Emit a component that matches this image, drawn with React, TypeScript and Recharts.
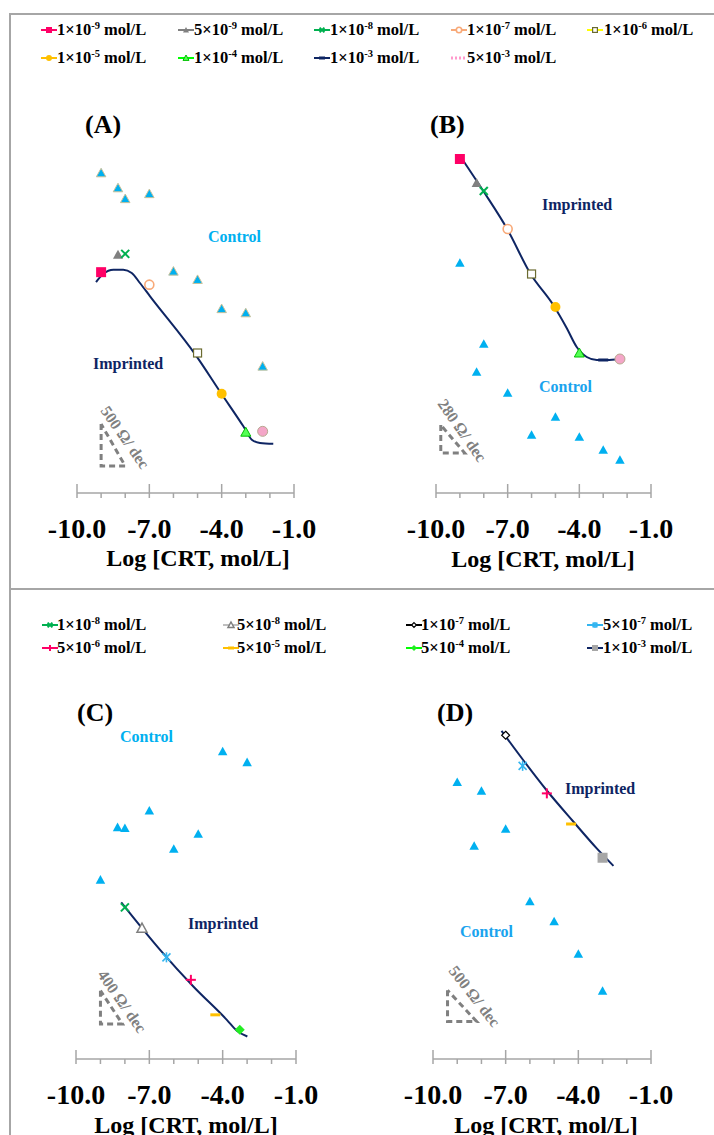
import { ComposedChart, Scatter, Line, XAxis, YAxis } from 'recharts';

const SERIF = "'Liberation Serif', 'Times New Roman', serif";
const AXIS_GREY = '#A6A6A6';
const NAVY = '#0E2563';
const CONTROL_BLUE = '#00B0F0';

// x axis (log concentration)
const X_TICKS = [-10, -9, -8, -7, -6, -5, -4, -3, -2, -1];
const X_MAJOR = [-10, -7, -4, -1];

// legends
const TOP_KEYS = ['1e-9', '5e-9', '1e-8', '1e-7', '1e-6', '1e-5', '1e-4', '1e-3', '5e-3'];
const TOP_MANT = ['1', '5', '1', '1', '1', '1', '1', '1', '5'];
const TOP_EXP = ['-9', '-9', '-8', '-7', '-6', '-5', '-4', '-3', '-3'];
const BOTTOM_KEYS = ['1e-8', '5e-8', '1e-7', '5e-7', '5e-6', '5e-5', '5e-4', '1e-3'];
const BOTTOM_MANT = ['1', '5', '1', '5', '5', '5', '5', '1'];
const BOTTOM_EXP = ['-8', '-8', '-7', '-7', '-6', '-5', '-4', '-3'];

// panel A
const A_CONTROL_X = [-9, -8.3, -8, -7, -6, -5, -4, -3, -2.3];
const A_CONTROL_Y = [3840, 3660, 3530, 3590, 2660, 2560, 2210, 2160, 1520];
const A_IMP_KEYS = ['1e-9', '5e-9', '1e-8', '1e-7', '1e-6', '1e-5', '1e-4', '5e-3'];
const A_IMP_X = [-9, -8.3, -8, -7, -5, -4, -3, -2.3];
const A_IMP_Y = [2650, 2860, 2870, 2500, 1680, 1190, 730, 740];
const A_FIT_X = [-9.21, -8.91, -8.49, -8.08, -7.73, -7.39, -6.97, -5.04, -4.03, -3.1, -2.75, -2.41, -1.86];
const A_FIT_Y = [2530, 2630, 2680, 2680, 2640, 2520, 2360, 1640, 1200, 800, 640, 600, 590];
const A_SCALE_X = [-9, -9, -8, -9];
const A_SCALE_Y = [828, 324, 324, 828];

// panel B
const B_CONTROL_X = [-9, -8, -8.3, -7, -5, -6, -4, -3, -2.3];
const B_CONTROL_Y = [2300, 1490, 1210, 1000, 760, 580, 560, 430, 330];
const B_IMP_KEYS = ['1e-9', '5e-9', '1e-8', '1e-7', '1e-6', '1e-5', '1e-4', '1e-3', '5e-3'];
const B_IMP_X = [-9, -8.3, -8, -7, -6, -5, -4, -3, -2.3];
const B_IMP_Y = [3340, 3100, 3020, 2640, 2190, 1860, 1400, 1330, 1340];
const B_FIT_X = [-9.02, -8.02, -7.02, -6.04, -5.09, -4.53, -4.11, -3.69, -3.27, -2.85, -2.33];
const B_FIT_Y = [3380, 3020, 2640, 2190, 1880, 1650, 1460, 1360, 1330, 1330, 1340];
const B_SCALE_X = [-9.8, -9.8, -8.8, -9.8];
const B_SCALE_Y = [680, 400, 400, 680];

// panel C
const C_CONTROL_X = [-4, -3, -7, -8.3, -8, -5, -6, -9];
const C_CONTROL_Y = [3690, 3560, 2980, 2780, 2770, 2700, 2520, 2150];
const C_IMP_KEYS = ['1e-8', '5e-8', '5e-7', '5e-6', '5e-5', '5e-4'];
const C_IMP_X = [-8, -7.3, -6.3, -5.3, -4.3, -3.3];
const C_IMP_Y = [1820, 1570, 1220, 950, 530, 350];
const C_FIT_X = [-8.15, -6.56, -5.2, -3.83, -3.42, -2.99];
const C_FIT_Y = [1880, 1310, 870, 470, 340, 270];
const C_SCALE_X = [-9, -9, -8.1, -9];
const C_SCALE_Y = [820, 420, 420, 820];

// panel D
const D_CONTROL_X = [-9, -8, -7, -8.3, -6, -5, -4, -3];
const D_CONTROL_Y = [4430, 4290, 3680, 3410, 2520, 2200, 1680, 1090];
const D_IMP_KEYS = ['1e-7', '5e-7', '5e-6', '5e-5', '1e-3'];
const D_IMP_X = [-7, -6.3, -5.3, -4.3, -3];
const D_IMP_Y = [5180, 4690, 4250, 3760, 3220];
const D_FIT_X = [-7.17, -6.27, -5.31, -4.21, -3.24, -2.55];
const D_FIT_Y = [5250, 4780, 4300, 3800, 3370, 3090];
const D_SCALE_X = [-9.4, -9.4, -8.2, -9.4];
const D_SCALE_Y = [1100, 600, 600, 1100];

type Style = { kind: string; color: string; stroke?: string; line: string; dotted?: boolean };

const TOP_STYLES: Record<string, Style> = {
  '1e-9': { kind: 'square', color: '#FF0066', line: '#FF0066' },
  '5e-9': { kind: 'triangle', color: '#808080', line: '#808080' },
  '1e-8': { kind: 'cross', color: '#00B050', line: '#00B050' },
  '1e-7': { kind: 'circleOpen', color: '#F8A978', line: '#F8A978' },
  '1e-6': { kind: 'squareOpen', color: '#6B6B30', line: '#FFFF00' },
  '1e-5': { kind: 'circle', color: '#FFC000', line: '#FFC000' },
  '1e-4': { kind: 'triangle', color: '#55FF55', stroke: '#00C000', line: '#00FF00' },
  '1e-3': { kind: 'dash', color: NAVY, line: NAVY },
  '5e-3': { kind: 'circle', color: '#F4A6C8', stroke: '#B8A890', line: '#FF99CC', dotted: true },
};

const BOTTOM_STYLES: Record<string, Style> = {
  '1e-8': { kind: 'cross', color: '#00B050', line: '#00B050' },
  '5e-8': { kind: 'triangleOpen', color: '#7F7F7F', line: '#BFBFBF' },
  '1e-7': { kind: 'diamondOpen', color: '#000000', line: '#000000' },
  '5e-7': { kind: 'asterisk', color: '#33B5F0', line: '#33B5F0' },
  '5e-6': { kind: 'plus', color: '#FF0066', line: '#FF0066' },
  '5e-5': { kind: 'dash', color: '#FFC000', line: '#FFC000' },
  '5e-4': { kind: 'diamond', color: '#22EE22', line: '#00FF00' },
  '1e-3': { kind: 'square', color: '#A6A6A6', line: NAVY },
};

function drawMarker(kind: string, cx: number, cy: number, color: string, stroke?: string, s = 1) {
  const h = 5 * s;
  switch (kind) {
    case 'square':
      return <rect x={cx - h} y={cy - h} width={2 * h} height={2 * h} fill={color} />;
    case 'squareOpen':
      return <rect x={cx - 4 * s} y={cy - 4 * s} width={8 * s} height={8 * s} fill="#fff" stroke={color} strokeWidth={1.2} />;
    case 'triangle':
      return (
        <path
          d={`M${cx},${cy - h} L${cx + h},${cy + 0.8 * h} L${cx - h},${cy + 0.8 * h} Z`}
          fill={color}
          stroke={stroke || 'none'}
          strokeWidth={stroke ? 1 : 0}
        />
      );
    case 'triangleOpen':
      return (
        <path
          d={`M${cx},${cy - h} L${cx + h},${cy + 0.8 * h} L${cx - h},${cy + 0.8 * h} Z`}
          fill="#fff"
          stroke={color}
          strokeWidth={1.5}
        />
      );
    case 'cross':
      return (
        <g stroke={color} strokeWidth={2}>
          <line x1={cx - 0.8 * h} y1={cy - 0.8 * h} x2={cx + 0.8 * h} y2={cy + 0.8 * h} />
          <line x1={cx - 0.8 * h} y1={cy + 0.8 * h} x2={cx + 0.8 * h} y2={cy - 0.8 * h} />
        </g>
      );
    case 'asterisk':
      return (
        <g stroke={color} strokeWidth={1.6}>
          <line x1={cx - 0.8 * h} y1={cy - 0.8 * h} x2={cx + 0.8 * h} y2={cy + 0.8 * h} />
          <line x1={cx - 0.8 * h} y1={cy + 0.8 * h} x2={cx + 0.8 * h} y2={cy - 0.8 * h} />
          <line x1={cx} y1={cy - h} x2={cx} y2={cy + h} />
        </g>
      );
    case 'plus':
      return (
        <g stroke={color} strokeWidth={2}>
          <line x1={cx - h} y1={cy} x2={cx + h} y2={cy} />
          <line x1={cx} y1={cy - h} x2={cx} y2={cy + h} />
        </g>
      );
    case 'circle':
      return <circle cx={cx} cy={cy} r={h} fill={color} stroke={stroke || 'none'} strokeWidth={stroke ? 1 : 0} />;
    case 'circleOpen':
      return <circle cx={cx} cy={cy} r={4.5 * s} fill="#fff" stroke={color} strokeWidth={1.6} />;
    case 'dash':
      return <rect x={cx - h} y={cy - 1.5} width={2 * h} height={3} fill={color} />;
    case 'diamond':
      return <path d={`M${cx},${cy - h} L${cx + h},${cy} L${cx},${cy + h} L${cx - h},${cy} Z`} fill={color} />;
    case 'diamondOpen':
      return (
        <path
          d={`M${cx},${cy - 0.8 * h} L${cx + 0.8 * h},${cy} L${cx},${cy + 0.8 * h} L${cx - 0.8 * h},${cy} Z`}
          fill="#fff"
          stroke={color}
          strokeWidth={1.2}
        />
      );
    default:
      return <g />;
  }
}

const AxisTick = (props: any) => {
  const { x, y, payload } = props;
  const v = payload.value;
  const major = X_MAJOR.includes(v);
  return (
    <g>
      <line x1={x} x2={x} y1={major ? y - 9 : y} y2={y + 5} stroke={AXIS_GREY} strokeWidth={1.5} />
      {major && (
        <text x={x} y={y + 45} textAnchor="middle" fontFamily={SERIF} fontWeight="bold" fontSize={28} fill="#000">
          {v.toFixed(1)}
        </text>
      )}
    </g>
  );
};

interface PanelProps {
  px0: number;
  px1: number;
  axisY: number;
  yMax: number;
  controlX: number[];
  controlY: number[];
  controlStroke?: string;
  impKeys: string[];
  impX: number[];
  impY: number[];
  fitX: number[];
  fitY: number[];
  scaleX: number[];
  scaleY: number[];
  styles: Record<string, Style>;
}

const PLOT_H = 350;

const Panel = (p: PanelProps) => {
  const control = p.controlX.map((x, i) => ({ x, y: p.controlY[i] }));
  const imp = p.impKeys.map((key, i) => ({ key, x: p.impX[i], y: p.impY[i] }));
  const fit = p.fitX.map((x, i) => ({ x, y: p.fitY[i] }));
  const scale = p.scaleX.map((x, i) => ({ x, y: p.scaleY[i] }));
  return (
    <div style={{ position: 'absolute', left: p.px0 - 40, top: p.axisY - PLOT_H - 20 }}>
      <ComposedChart
        width={p.px1 - p.px0 + 80}
        height={20 + PLOT_H + 60}
        margin={{ top: 20, right: 40, bottom: 0, left: 40 }}
      >
        <XAxis
          type="number"
          dataKey="x"
          domain={[-10, -1]}
          ticks={X_TICKS}
          interval={0}
          allowDataOverflow
          tickSize={0}
          tickMargin={0}
          tickLine={false}
          tick={AxisTick}
          axisLine={{ stroke: AXIS_GREY, strokeWidth: 1.5 }}
          height={60}
        />
        <YAxis type="number" dataKey="y" domain={[0, p.yMax]} hide width={0} allowDataOverflow />
        <Scatter
          data={scale}
          line={{ stroke: '#808080', strokeWidth: 3, strokeDasharray: '6 4' }}
          lineType="joint"
          shape={() => <g />}
          isAnimationActive={false}
        />
        <Line
          data={fit}
          dataKey="y"
          type="monotone"
          stroke={NAVY}
          strokeWidth={2}
          dot={false}
          activeDot={false}
          isAnimationActive={false}
        />
        <Scatter
          data={control}
          shape={(s: any) => drawMarker('triangle', s.cx, s.cy, CONTROL_BLUE, p.controlStroke, 0.95)}
          isAnimationActive={false}
        />
        <Scatter
          data={imp}
          shape={(s: any) => {
            const st = p.styles[s.payload.key];
            return drawMarker(st.kind, s.cx, s.cy, st.color, st.stroke);
          }}
          isAnimationActive={false}
        />
      </ComposedChart>
    </div>
  );
};

const Txt = ({ x, y, size, color = '#000', bold = true, center = false, children }: any) => (
  <div
    style={{
      position: 'absolute',
      left: x,
      top: y,
      transform: `translate(${center ? '-50%' : '0'}, -50%)`,
      fontFamily: SERIF,
      fontSize: size,
      fontWeight: bold ? 'bold' : 'normal',
      color,
      lineHeight: 1,
      whiteSpace: 'nowrap',
    }}
  >
    {children}
  </div>
);

const LegendItem = ({ x, tx, y, st, mant, exp }: any) => (
  <>
    <svg style={{ position: 'absolute', left: x - 9, top: y - 7 }} width={18} height={14}>
      <line
        x1={1}
        x2={17}
        y1={7}
        y2={7}
        stroke={st.line}
        strokeWidth={st.dotted ? 3 : 2}
        strokeDasharray={st.dotted ? '2 2' : undefined}
      />
      {!st.dotted && drawMarker(st.kind, 9, 7, st.color, st.stroke, 0.6)}
    </svg>
    <Txt x={tx} y={y} size={16.5}>
      {mant}×10<span style={{ fontSize: 10.5, position: 'relative', top: -6 }}>{exp}</span> mol/L
    </Txt>
  </>
);

const TOP_COL_MARK = [49, 186, 322, 459, 595];
const TOP_COL_TEXT = [57, 194, 330, 467, 604];
const BOT_COL_MARK = [50, 231, 414, 595];
const BOT_COL_TEXT = [57, 237, 421, 603];

const ScaleLabel = ({ x, y, angle, children }: any) => (
  <div
    style={{
      position: 'absolute',
      left: x,
      top: y - 8,
      transform: `rotate(${angle}deg)`,
      transformOrigin: '0 50%',
      fontFamily: SERIF,
      fontSize: 16,
      fontWeight: 'bold',
      color: '#808080',
      lineHeight: 1,
      whiteSpace: 'nowrap',
    }}
  >
    {children}
  </div>
);

const App = () => {
  return (
    <div
      style={{
        position: 'absolute',
        left: 0,
        top: 0,
        width: 714,
        height: 1135,
        overflow: 'hidden',
        background: '#fff',
      }}
    >
      {/* frame lines */}
      <div style={{ position: 'absolute', left: 9, top: 13, width: 705, height: 2, background: AXIS_GREY }} />
      <div style={{ position: 'absolute', left: 9, top: 588, width: 705, height: 2, background: AXIS_GREY }} />
      <div style={{ position: 'absolute', left: 9, top: 13, width: 2, height: 1122, background: AXIS_GREY }} />

      {TOP_KEYS.map((k, i) => (
        <LegendItem
          key={k}
          x={TOP_COL_MARK[i % 5]}
          tx={TOP_COL_TEXT[i % 5]}
          y={i < 5 ? 30 : 58}
          st={TOP_STYLES[k]}
          mant={TOP_MANT[i]}
          exp={TOP_EXP[i]}
        />
      ))}
      {BOTTOM_KEYS.map((k, i) => (
        <LegendItem
          key={k}
          x={BOT_COL_MARK[i % 4]}
          tx={BOT_COL_TEXT[i % 4]}
          y={i < 4 ? 625 : 648}
          st={BOTTOM_STYLES[k]}
          mant={BOTTOM_MANT[i]}
          exp={BOTTOM_EXP[i]}
        />
      ))}

      <Panel
        px0={77}
        px1={294}
        axisY={493}
        yMax={4200}
        controlX={A_CONTROL_X}
        controlY={A_CONTROL_Y}
        controlStroke="#C9C19A"
        impKeys={A_IMP_KEYS}
        impX={A_IMP_X}
        impY={A_IMP_Y}
        fitX={A_FIT_X}
        fitY={A_FIT_Y}
        scaleX={A_SCALE_X}
        scaleY={A_SCALE_Y}
        styles={TOP_STYLES}
      />
      <Panel
        px0={436}
        px1={651}
        axisY={493}
        yMax={3500}
        controlX={B_CONTROL_X}
        controlY={B_CONTROL_Y}
        impKeys={B_IMP_KEYS}
        impX={B_IMP_X}
        impY={B_IMP_Y}
        fitX={B_FIT_X}
        fitY={B_FIT_Y}
        scaleX={B_SCALE_X}
        scaleY={B_SCALE_Y}
        styles={TOP_STYLES}
      />
      <Panel
        px0={76}
        px1={296}
        axisY={1059}
        yMax={4200}
        controlX={C_CONTROL_X}
        controlY={C_CONTROL_Y}
        impKeys={C_IMP_KEYS}
        impX={C_IMP_X}
        impY={C_IMP_Y}
        fitX={C_FIT_X}
        fitY={C_FIT_Y}
        scaleX={C_SCALE_X}
        scaleY={C_SCALE_Y}
        styles={BOTTOM_STYLES}
      />
      <Panel
        px0={433}
        px1={651}
        axisY={1059}
        yMax={5600}
        controlX={D_CONTROL_X}
        controlY={D_CONTROL_Y}
        impKeys={D_IMP_KEYS}
        impX={D_IMP_X}
        impY={D_IMP_Y}
        fitX={D_FIT_X}
        fitY={D_FIT_Y}
        scaleX={D_SCALE_X}
        scaleY={D_SCALE_Y}
        styles={BOTTOM_STYLES}
      />

      {/* panel letters */}
      <Txt x={85} y={125} size={26}>(A)</Txt>
      <Txt x={430} y={125} size={26}>(B)</Txt>
      <Txt x={77} y={713} size={26}>(C)</Txt>
      <Txt x={437} y={713} size={26}>(D)</Txt>

      {/* series annotations */}
      <Txt x={208} y={237} size={16} color={CONTROL_BLUE}>Control</Txt>
      <Txt x={93} y={364} size={16} color={NAVY}>Imprinted</Txt>
      <Txt x={542} y={205} size={16} color={NAVY}>Imprinted</Txt>
      <Txt x={539} y={387} size={16} color="#1AA3EE">Control</Txt>
      <Txt x={120} y={737} size={16} color={CONTROL_BLUE}>Control</Txt>
      <Txt x={188} y={924} size={16} color={NAVY}>Imprinted</Txt>
      <Txt x={565} y={789} size={16} color={NAVY}>Imprinted</Txt>
      <Txt x={460} y={932} size={16} color="#1AA3EE">Control</Txt>

      {/* slope scale labels */}
      <ScaleLabel x={104} y={408} angle={55}>500 Ω/ dec</ScaleLabel>
      <ScaleLabel x={441} y={401} angle={55}>280 Ω/ dec</ScaleLabel>
      <ScaleLabel x={101} y={972} angle={55}>400 Ω/ dec</ScaleLabel>
      <ScaleLabel x={452} y={968} angle={52}>500 Ω/ dec</ScaleLabel>

      {/* axis titles */}
      <Txt x={198} y={558} size={24} center>Log [CRT, mol/L]</Txt>
      <Txt x={543} y={559} size={24} center>Log [CRT, mol/L]</Txt>
      <Txt x={186} y={1125} size={24} center>Log [CRT, mol/L]</Txt>
      <Txt x={546} y={1125} size={24} center>Log [CRT, mol/L]</Txt>
    </div>
  );
};

export default App;
